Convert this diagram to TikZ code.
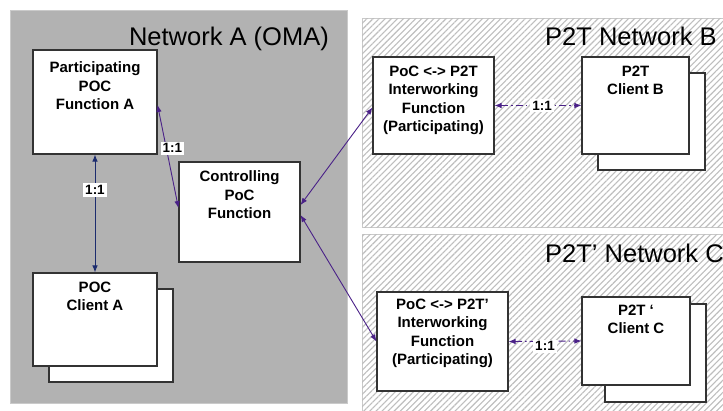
\documentclass[tikz,border=0pt]{standalone}
\usepackage{fontspec}
\setmainfont{Liberation Sans}
\usepackage{tikz}
\usetikzlibrary{arrows.meta, patterns.meta, positioning}
\definecolor{netgray}{HTML}{B2B2B2}
\definecolor{netedge}{HTML}{CACACA}
\definecolor{hatchgray}{HTML}{BEBEBE}
\definecolor{linknavy}{HTML}{1C2C6E}
\definecolor{linkpurple}{HTML}{4A2188}

\tikzset{
  netbox/.style={draw=netedge, line width=1pt},
  hatched/.style={netbox, fill=white,
    postaction={pattern={Lines[angle=45,distance=4.3pt,line width=1.1pt]}, pattern color=hatchgray}},
  netlabel/.style={font=\fontsize{25.5}{30}\selectfont, inner sep=0pt},
  funcbox/.style={draw=black!80, line width=1.1pt, fill=white, inner sep=0pt},
  boxtext/.style={font=\bfseries\fontsize{15}{18.5}\selectfont, align=center, anchor=north, inner sep=0pt},
  link/.style={line width=0.9pt, {Latex[length=7pt,width=5.5pt]}-{Latex[length=7pt,width=5.5pt]}},
  peerlink/.style={link, linkpurple, dash pattern=on 7pt off 3pt on 1.5pt off 3pt},
  ratio/.style={font=\bfseries\fontsize{13.5}{15}\selectfont, fill=white, inner sep=2pt, text=black}
}

\begin{document}
\begin{tikzpicture}[x=1pt, y=-1pt]
    \clip (0,0) rectangle (723,410);
    \fill[white] (0,0) rectangle (723,410);

    \filldraw[netbox, fill=netgray] (10,10) rectangle (347,403);
    \path[hatched] (362,18) rectangle (735,227);
    \path[hatched] (362,234) rectangle (735,425);

    \node[netlabel, anchor=base east] (netA) at (329,45) {Network A (OMA)};
    \node[netlabel, anchor=base west] (netB) at (545,45) {P2T Network B};
    \node[netlabel, anchor=base west] (netC) at (545,262) {P2T’ Network C};

    \node[funcbox, minimum width=124pt, minimum height=104pt,
          label={[boxtext, yshift=-12pt]north:{Participating\\POC\\Function A}}] (partA) at (95,102) {};
    \node[funcbox, minimum width=121pt, minimum height=100pt,
          label={[boxtext, yshift=-9pt]north:{Controlling\\PoC\\Function}}] (ctrl) at (239.5,212) {};
    \node[funcbox, minimum width=124pt, minimum height=93pt] (clientAback) at (111,335.5) {};
    \node[funcbox, minimum width=124pt, minimum height=93pt,
          label={[boxtext, yshift=-9pt]north:{POC\\Client A}}] (clientA) at (95,319.5) {};

    \node[funcbox, minimum width=121pt, minimum height=97pt,
          label={[boxtext, yshift=-9pt]north:{PoC <-> P2T\\Interworking\\Function\\(Participating)}}] (iwfB) at (433.5,105.5) {};
    \node[funcbox, minimum width=107pt, minimum height=97pt] (clientBback) at (651.5,121.5) {};
    \node[funcbox, minimum width=107pt, minimum height=97pt,
          label={[boxtext, yshift=-9pt]north:{P2T\\Client B}}] (clientB) at (635.5,105.5) {};

    \node[funcbox, minimum width=131pt, minimum height=99pt,
          label={[boxtext, yshift=-7pt]north:{PoC <-> P2T’\\Interworking\\Function\\(Participating)}}] (iwfC) at (442.5,341.5) {};
    \node[funcbox, minimum width=101pt, minimum height=98pt] (clientCback) at (655.5,353) {};
    \node[funcbox, minimum width=108pt, minimum height=88pt,
          label={[boxtext, yshift=-8pt]north:{P2T ‘\\Client C}}] (clientC) at (636,341) {};

    \draw[link, linknavy] (partA.south) -- node[ratio, pos=.3] {1:1} (clientA.north);
    \draw[link, linkpurple] ([yshift=-3pt]partA.east) -- node[ratio, pos=.42, xshift=6pt] {1:1} ([yshift=4pt]ctrl.west);
    \draw[link, linkpurple] ([yshift=7pt]ctrl.east) -- ([yshift=-2pt]iwfB.west);
    \draw[link, linkpurple] ([yshift=-3pt]ctrl.east) -- (iwfC.west);
    \draw[peerlink] (iwfB.east) -- node[ratio, xshift=4pt] {1:1} (clientB.west);
    \draw[peerlink] (iwfC.east) -- node[ratio, yshift=-5pt] {1:1} (clientC.west);
\end{tikzpicture}
\end{document}
